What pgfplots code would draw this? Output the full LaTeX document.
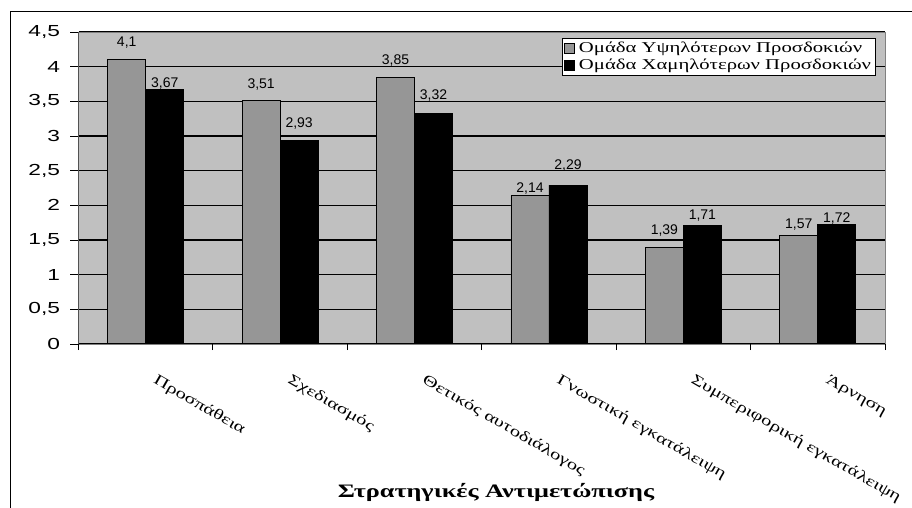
\documentclass[border=0pt]{standalone}
\usepackage{pgfplots}
\pgfplotsset{compat=1.18}
\usepackage{pgfplotstable}
\usepackage{fontspec}
\setmainfont{Liberation Serif}
\newfontfamily\arialn{Liberation Sans}
\newfontfamily\arialw{Liberation Sans}[FakeStretch=1.42]
\newfontfamily\timesw{Liberation Serif}[FakeStretch=1.38]
\definecolor{plotbg}{HTML}{C0C0C0}
\definecolor{bargray}{HTML}{969696}
\definecolor{framegray}{HTML}{808080}

\pgfplotstableread{
x y lab gap
1 4.10 4,1 13
2 3.51 3,51 12
3 3.85 3,85 13
4 2.14 2,14 3
5 1.39 1,39 13
6 1.57 1,57 7
}\high
\pgfplotstableread{
x y lab gap
1 3.67 3,67 2
2 2.93 2,93 13
3 3.32 3,32 14
4 2.29 2,29 16
5 1.71 1,71 6
6 1.72 1,72 2
}\low

\begin{document}
\begin{tikzpicture}
\begin{axis}[
  at={(78.5bp,164bp)}, anchor=south west,
  scale only axis, width=806.5bp, height=312bp,
  xmin=0.5, xmax=6.5, ymin=0, ymax=4.5,
  ybar=0pt, bar width=38bp,
  axis background/.style={fill=plotbg},
  axis line style={framegray, line width=1bp},
  ytick={0,0.5,1,1.5,2,2.5,3,3.5,4,4.5},
  yticklabels={0,{0,5},1,{1,5},2,{2,5},3,{3,5},4,{4,5}},
  ytick pos=left, xtick pos=bottom,
  tick align=outside,
  major tick length=8bp,
  ymajorgrids, major grid style={black, line width=1.1bp},
  y tick style={black, line width=1bp},
  xtick={1,2,3,4,5,6},
  xticklabels={Προσπάθεια, Σχεδιασμός, Θετικός αυτοδιάλογος, Γνωστική εγκατάλειψη, Συμπεριφορική εγκατάλειψη, Άρνηση},
  x tick style={draw=none},
  extra x ticks={0.5,1.5,2.5,3.5,4.5,5.5,6.5},
  extra x tick labels={},
  extra x tick style={x tick style={draw=black, line width=1bp}, major tick length=6bp},
  xticklabel style={font=\timesw\fontsize{15bp}{17bp}\selectfont, rotate=-30, anchor=north west, xshift=18bp, yshift=-9bp},
  yticklabel style={font=\arialw\fontsize{16bp}{18bp}\selectfont, xshift=-7bp},
  legend style={at={(0.5995,0.981)}, anchor=north west, draw=black, fill=white,
    font=\timesw\fontsize{15bp}{17bp}\selectfont, inner sep=2bp, row sep=1bp},
  legend cell align=left,
]
\addplot[fill=bargray, draw=black, line width=0.8bp,
  legend image code/.code={\draw[fill=bargray, draw=black, line width=0.8bp] (0bp,-5bp) rectangle (10bp,5bp); \path (12bp,0bp);},
  nodes near coords, point meta=explicit symbolic,
  visualization depends on={\thisrow{gap}\as\gap},
  every node near coord/.append style={anchor=base, yshift=\gap bp, font=\arialn\fontsize{14bp}{16bp}\selectfont, text=black}]
  table[x=x, y=y, meta=lab]{\high};
\addlegendentry{Ομάδα Υψηλότερων Προσδοκιών}
\addplot[fill=black, draw=black, line width=0.8bp,
  legend image code/.code={\draw[fill=black, draw=black, line width=0.8bp] (0bp,-5bp) rectangle (10bp,5bp); \path (12bp,0bp);},
  nodes near coords, point meta=explicit symbolic,
  visualization depends on={\thisrow{gap}\as\gap},
  every node near coord/.append style={anchor=base, yshift=\gap bp, font=\arialn\fontsize{14bp}{16bp}\selectfont, text=black}]
  table[x=x, y=y, meta=lab]{\low};
\addlegendentry{Ομάδα Χαμηλότερων Προσδοκιών}
\draw[black, line width=1.1bp] (rel axis cs:0,1) -- (rel axis cs:0,0) -- (rel axis cs:1,0);
\end{axis}
\node[font=\timesw\bfseries\fontsize{19bp}{21bp}\selectfont, anchor=base] at (496bp,11bp) {Στρατηγικές Αντιμετώπισης};
\draw[black, line width=1bp] (10bp,-5bp) -- (10bp,496bp) -- (925bp,496bp);
\pgfresetboundingbox
\useasboundingbox (0,0) rectangle (912bp,508bp);
\end{tikzpicture}
\end{document}
